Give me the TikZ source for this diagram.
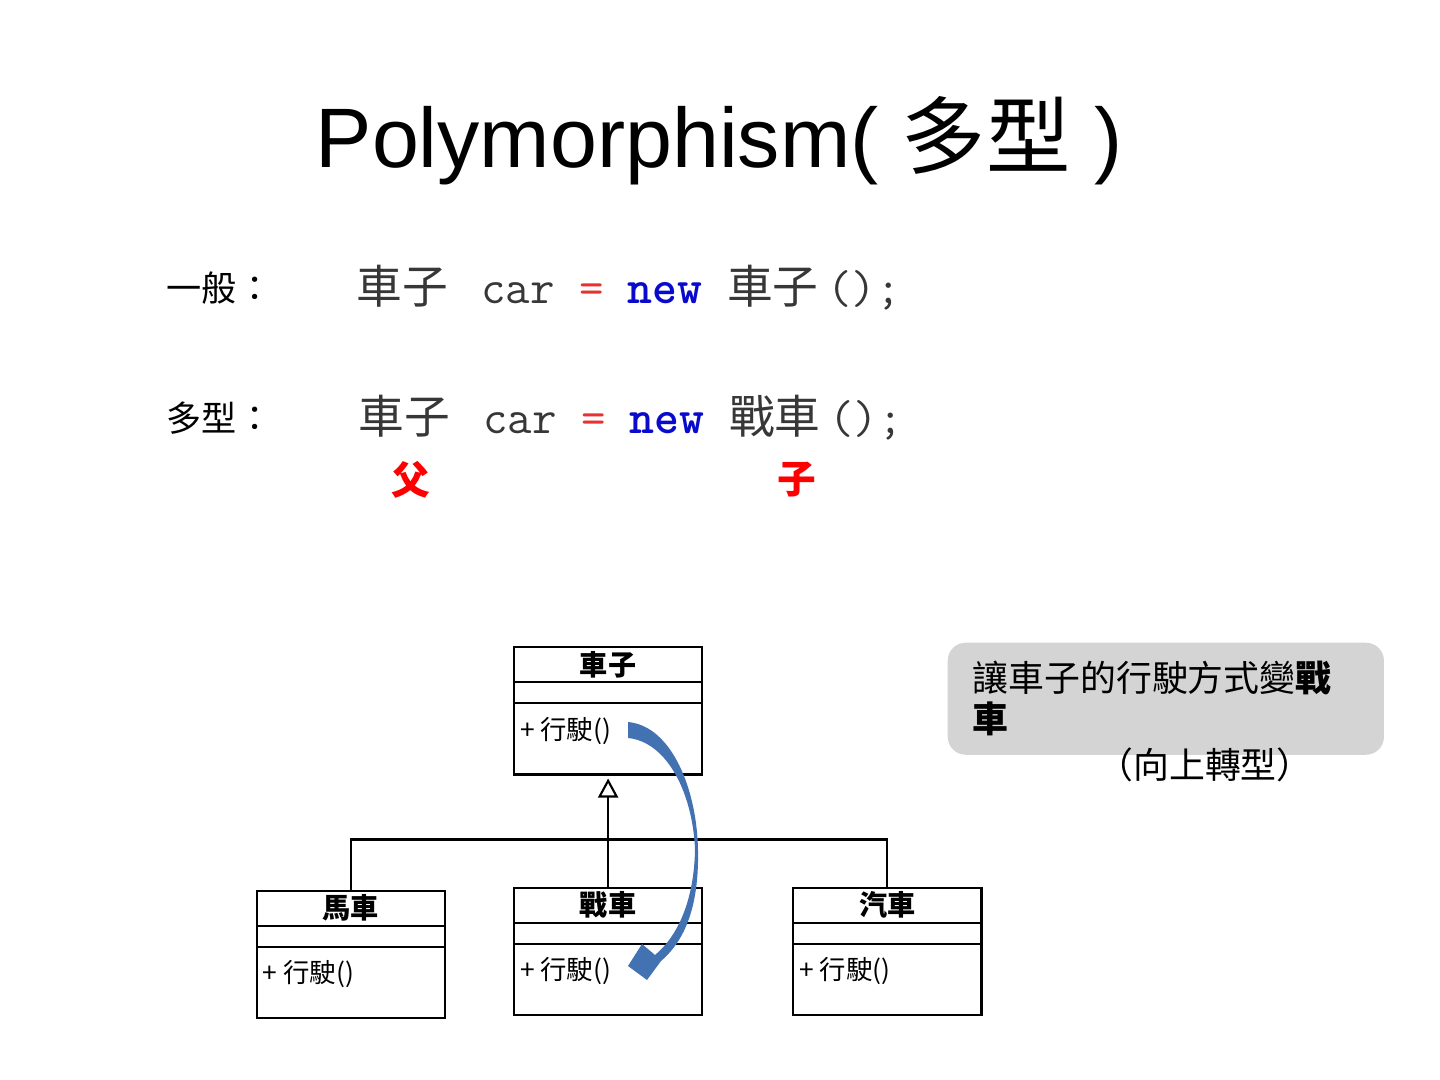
\documentclass[tikz,border=0pt]{standalone}
\usepackage{fontspec}
\setmainfont{Liberation Sans}
\newfontfamily\cjk{Noto Sans CJK TC}
\usetikzlibrary{shapes.multipart,positioning,arrows.meta}
\definecolor{codegray}{RGB}{55,55,55}
\definecolor{codered}{RGB}{232,50,50}
\definecolor{codeblue}{RGB}{10,10,205}
\definecolor{drivecol}{RGB}{66,114,178}
\definecolor{notegray}{RGB}{212,212,212}
\newcommand{\clsname}[1]{\makebox[1.76cm]{\rule[-0.06cm]{0pt}{0.33cm}\fontsize{8pt}{9pt}\selectfont\bfseries #1}}
\newcommand{\clsgap}{\rule{0pt}{0.19cm}}
\newcommand{\clsitem}[1]{\makebox[1.76cm][l]{\rule[-0.34cm]{0pt}{0.69cm}#1}}
\newcommand{\wcjk}[1]{\makebox[1cm][l]{\fontsize{13pt}{13pt}\cjk #1}}

\begin{document}
\begin{tikzpicture}[x=0.01cm, y=-0.01cm,
      titletext/.style={inner sep=0pt, font=\fontsize{24pt}{28pt}\selectfont},
      sidelabel/.style={inner sep=0pt, font=\fontsize{10pt}{12pt}\cjk},
      codeline/.style={inner sep=0pt, text=codegray,
          font=\fontsize{13.5pt}{15pt}\ttfamily},
      pcmark/.style={inner sep=0pt, text=red, font=\fontsize{11pt}{13pt}\cjk\bfseries},
      classbox/.style={rectangle split, rectangle split parts=3, draw,
          line width=0.6pt, inner xsep=0.06cm, inner ysep=0pt,
          font=\fontsize{7.5pt}{9pt}\cjk},
      notebox/.style={fill=notegray, rounded corners=0.18cm,
          minimum width=4.36cm, minimum height=1.12cm, text width=3.86cm,
          inner xsep=0.25cm, inner ysep=0.12cm, align=left,
          font=\fontsize{10.2pt}{11.6pt}\cjk}]
    \useasboundingbox (0,0) rectangle (1440,1080);

    \node[titletext, anchor=base] (title) at (719,168)
      {Polymorphism( {\cjk 多型} )};

    \node[sidelabel, anchor=west] (plainlbl) at (166,288) {一般：};
    \node[sidelabel, anchor=west] (polylbl) at (166,418) {多型：};

    \node[codeline, anchor=west] (plain) at (356,288)
      {\wcjk{車子}\ car\ \textcolor{codered}{=}\ \textcolor{codeblue}{\bfseries new}\ \wcjk{車子}();};
    \node[codeline, anchor=west] (poly) at (358,418)
      {\wcjk{車子}\ car\ \textcolor{codered}{=}\ \textcolor{codeblue}{\bfseries new}\ \wcjk{戰車}();};

    \node[pcmark] (father) at (411,480) {父};
    \node[pcmark] (son) at (797,480) {子};

    % class diagram
    \node[classbox, anchor=north west] (car) at (513,646)
    {
      \clsname{車子}
      \nodepart{two}      \clsgap
      \nodepart{three}    \clsitem{+ 行駛()}
    };
    \node[classbox, below=1.11cm of car] (tank)
    {
      \clsname{戰車}
      \nodepart{two}      \clsgap
      \nodepart{three}    \clsitem{+ 行駛()}
    };
    \node[classbox, left=0.67cm of tank, yshift=-0.03cm] (horse)
    {
      \clsname{馬車}
      \nodepart{two}      \clsgap
      \nodepart{three}    \clsitem{+ 行駛()}
    };
    \node[classbox, right=0.89cm of tank] (auto)
    {
      \clsname{汽車}
      \nodepart{two}      \clsgap
      \nodepart{three}    \clsitem{+ 行駛()}
    };

    \coordinate[above=0.47cm of tank.north] (hub);
    \draw[line width=0.6pt, -{Triangle[open, width=0.2cm, length=0.19cm]},
          shorten >=0.03cm] (tank.north) -- (car.south);
    \draw[line width=0.6pt] (horse.north) |- (hub) -| (auto.north);

    % upcast arrow
    \fill[drivecol] (628,722) .. controls (672,726) and (697,790) .. (698,850)
      .. controls (699,900) and (688,938) .. (661,961) -- (647,980)
      -- (628,966) -- (642,944) -- (655,955)
      .. controls (678,936) and (694,900) .. (695,850)
      .. controls (693,795) and (668,742) .. (628,738) -- cycle;

    \node[notebox, anchor=north west] (note) at (947,642)
      {讓車子的行駛方式變\textbf{戰}\\\textbf{車}};
    \node[inner sep=0pt, font=\fontsize{10.2pt}{12pt}\cjk] (upcast) at (1205,765)
      {（向上轉型）};
\end{tikzpicture}
\end{document}
